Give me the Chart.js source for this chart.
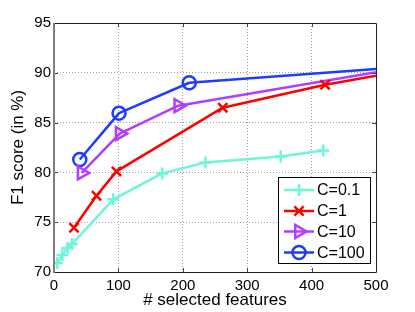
<!DOCTYPE html>
<html>
<head>
<meta charset="utf-8">
<script src="https://cdn.jsdelivr.net/npm/chart.js@4/dist/chart.umd.min.js"></script>
<style>
html,body{margin:0;padding:0;background:#fff;}
#wrap{position:relative;width:415px;height:312px;}
canvas{display:block;}
</style>
</head>
<body>
<div id="wrap"><canvas id="c" width="415" height="312"></canvas></div>
<script>
// ---- data ----
const xTicks = [0, 100, 200, 300, 400, 500];
const yTicks = [70, 75, 80, 85, 90, 95];

const labels = ['C=0.1', 'C=1', 'C=10', 'C=100'];

const xC01 = [5, 13, 21, 28, 92, 168, 235, 352, 418];
const yC01 = [70.9, 71.7, 72.4, 72.8, 77.3, 79.9, 81.0, 81.6, 82.2];

const xC1 = [31, 66, 97, 262, 421, 500];
const yC1 = [74.45, 77.65, 80.1, 86.5, 88.8, 89.7];

const xC10 = [43, 102, 193, 500];
const yC10 = [79.95, 83.9, 86.7, 90.05];

const xC100 = [40, 101, 210, 500];
const yC100 = [81.3, 85.95, 89.0, 90.37];

// ---- styling ----
const FONT = 'Liberation Sans, Arial, Helvetica, sans-serif';
const colors = ['#6ff5d8', '#ff0000', '#b43cff', '#1e3cff'];
const styles = [
  {pointStyle: 'cross', radius: 6, rotation: 0},
  {pointStyle: 'crossRot', radius: 6.5, rotation: 0},
  {pointStyle: 'triangle', radius: 7.5, rotation: 90},
  {pointStyle: 'circle', radius: 6.5, rotation: 0}
];

function pts(xs, ys) { return xs.map((x, i) => ({x: x, y: ys[i]})); }
const series = [pts(xC01, yC01), pts(xC1, yC1), pts(xC10, yC10), pts(xC100, yC100)];

const datasets = series.map((d, i) => ({
  label: labels[i],
  data: d,
  borderColor: colors[i],
  backgroundColor: 'rgba(0,0,0,0)',
  borderWidth: 2.5,
  pointStyle: styles[i].pointStyle,
  pointRotation: styles[i].rotation,
  pointBorderColor: colors[i],
  pointBackgroundColor: 'rgba(0,0,0,0)',
  pointBorderWidth: 2.5,
  // no marker drawn on the point sitting on the right border
  pointRadius: d.map(p => (p.x >= 500 ? 0 : styles[i].radius)),
  tension: 0,
  fill: false
}));

const framePlugin = {
  id: 'frame',
  afterDatasetsDraw(chart) {
    const ctx = chart.ctx;
    const a = chart.chartArea;
    const xs = chart.scales.x, ys = chart.scales.y;
    ctx.save();
    // inward ticks
    ctx.strokeStyle = '#444';
    ctx.lineWidth = 1;
    const TL = 4;
    xTicks.forEach(v => {
      if (v <= 0 || v >= 500) return;
      const px = Math.round(xs.getPixelForValue(v)) + 0.5;
      ctx.beginPath();
      ctx.moveTo(px, a.bottom); ctx.lineTo(px, a.bottom - TL);
      ctx.moveTo(px, a.top); ctx.lineTo(px, a.top + TL);
      ctx.stroke();
    });
    yTicks.forEach(v => {
      if (v <= 70 || v >= 95) return;
      const py = Math.round(ys.getPixelForValue(v)) + 0.5;
      ctx.beginPath();
      ctx.moveTo(a.left, py); ctx.lineTo(a.left + TL, py);
      ctx.moveTo(a.right, py); ctx.lineTo(a.right - TL, py);
      ctx.stroke();
    });
    // box: top/right/bottom black, left gray
    ctx.strokeStyle = '#222';
    ctx.lineWidth = 1;
    ctx.beginPath();
    ctx.moveTo(Math.round(a.left), Math.round(a.top) + 0.5);
    ctx.lineTo(Math.round(a.right) + 0.5, Math.round(a.top) + 0.5);
    ctx.lineTo(Math.round(a.right) + 0.5, Math.round(a.bottom) + 0.5);
    ctx.lineTo(Math.round(a.left), Math.round(a.bottom) + 0.5);
    ctx.stroke();
    ctx.strokeStyle = '#808080';
    ctx.lineWidth = 2;
    ctx.beginPath();
    ctx.moveTo(Math.round(a.left), Math.round(a.top));
    ctx.lineTo(Math.round(a.left), Math.round(a.bottom) + 1);
    ctx.stroke();

    // legend
    const bx = 278.5, by = 177.5, bw = 92, bh = 86;
    ctx.fillStyle = '#fff';
    ctx.fillRect(bx, by, bw, bh);
    ctx.strokeStyle = '#000';
    ctx.lineWidth = 1;
    ctx.strokeRect(bx, by, bw, bh);
    const rows = [190, 211, 231.5, 252.5];
    chart.data.datasets.forEach((ds, i) => {
      const y = rows[i];
      ctx.strokeStyle = colors[i];
      ctx.lineWidth = 2.5;
      ctx.beginPath();
      ctx.moveTo(284, y); ctx.lineTo(314, y);
      ctx.stroke();
      ctx.fillStyle = 'rgba(0,0,0,0)';
      const opts = {pointStyle: styles[i].pointStyle, rotation: styles[i].rotation,
                    radius: styles[i].radius, borderWidth: 2.5};
      if (Chart.helpers && Chart.helpers.drawPoint) {
        Chart.helpers.drawPoint(ctx, opts, 299, y);
      }
      ctx.fillStyle = '#000';
      ctx.font = '16px ' + FONT;
      ctx.textBaseline = 'middle';
      ctx.textAlign = 'left';
      ctx.fillText(ds.label, 317, y + 1);
    });
    ctx.restore();
  }
};

const gridColor = (lo, hi) => (c) => {
  const v = c.tick ? c.tick.value : null;
  return (v === null || v <= lo || v >= hi) ? 'rgba(0,0,0,0)' : '#a0a0a0';
};

new Chart(document.getElementById('c'), {
  type: 'line',
  data: {datasets: datasets},
  plugins: [framePlugin],
  options: {
    responsive: false,
    devicePixelRatio: 1,
    animation: false,
    layout: {padding: {left: 0, top: 23, right: 39, bottom: 0}},
    plugins: {legend: {display: false}, tooltip: {enabled: false}},
    elements: {line: {borderCapStyle: 'butt', borderJoinStyle: 'round'}},
    scales: {
      x: {
        type: 'linear', min: 0, max: 500,
        afterBuildTicks: (s) => { s.ticks = xTicks.map(v => ({value: v})); },
        afterFit: (s) => { s.height = 40; },
        ticks: {color: '#000', font: {family: FONT, size: 15}, padding: 5, maxRotation: 0},
        grid: {drawTicks: false, color: gridColor(0, 500), lineWidth: 1},
        border: {display: false, dash: [1, 2]},
        title: {display: true, text: '# selected features', color: '#000',
                font: {family: FONT, size: 17}, padding: {top: 1, bottom: 1}}
      },
      y: {
        type: 'linear', min: 70, max: 95,
        afterBuildTicks: (s) => { s.ticks = yTicks.map(v => ({value: v})); },
        afterFit: (s) => { s.width = 54; },
        ticks: {color: '#000', font: {family: FONT, size: 15}, padding: 3},
        grid: {drawTicks: false, color: gridColor(70, 95), lineWidth: 1},
        border: {display: false, dash: [1, 2]},
        title: {display: true, text: 'F1 score (in %)', color: '#000',
                font: {family: FONT, size: 17}, padding: {top: 8, bottom: 8}}
      }
    }
  }
});
</script>
</body>
</html>
